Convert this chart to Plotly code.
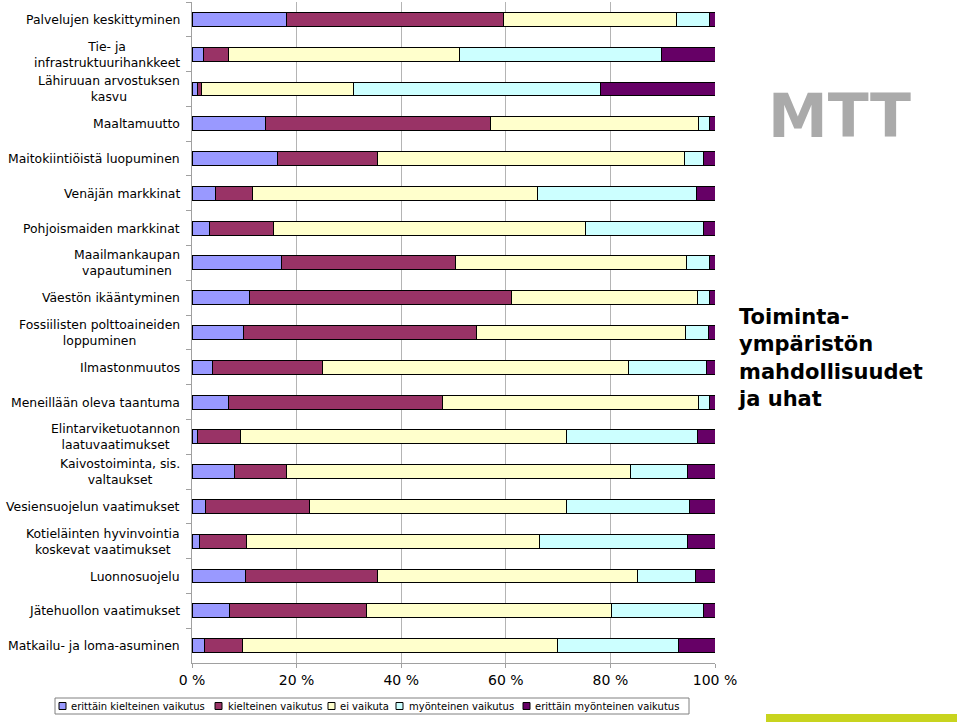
import plotly.graph_objects as go

categories = [
    "Palvelujen keskittyminen",
    "Tie- ja infrastruktuurihankkeet",
    "Lähiruuan arvostuksen kasvu",
    "Maaltamuutto",
    "Maitokiintiöistä luopuminen",
    "Venäjän markkinat",
    "Pohjoismaiden markkinat",
    "Maailmankaupan vapautuminen",
    "Väestön ikääntyminen",
    "Fossiilisten polttoaineiden loppuminen",
    "Ilmastonmuutos",
    "Meneillään oleva taantuma",
    "Elintarviketuotannon laatuvaatimukset",
    "Kaivostoiminta, sis. valtaukset",
    "Vesiensuojelun vaatimukset",
    "Kotieläinten hyvinvointia koskevat vaatimukset",
    "Luonnosuojelu",
    "Jätehuollon vaatimukset",
    "Matkailu- ja loma-asuminen",
]
category_labels = [
    "Palvelujen keskittyminen",
    "Tie- ja<br>infrastruktuurihankkeet",
    "Lähiruuan arvostuksen<br>kasvu",
    "Maaltamuutto",
    "Maitokiintiöistä luopuminen",
    "Venäjän markkinat",
    "Pohjoismaiden markkinat",
    "Maailmankaupan<br>vapautuminen",
    "Väestön ikääntyminen",
    "Fossiilisten polttoaineiden<br>loppuminen",
    "Ilmastonmuutos",
    "Meneillään oleva taantuma",
    "Elintarviketuotannon<br>laatuvaatimukset",
    "Kaivostoiminta, sis.<br>valtaukset",
    "Vesiensuojelun vaatimukset",
    "Kotieläinten hyvinvointia<br>koskevat vaatimukset",
    "Luonnosuojelu",
    "Jätehuollon vaatimukset",
    "Matkailu- ja loma-asuminen",
]

series_names = [
    "erittäin kielteinen vaikutus",
    "kielteinen vaikutus",
    "ei vaikuta",
    "myönteinen vaikutus",
    "erittäin myönteinen vaikutus",
]
erittain_kielteinen = [18.1, 2.2, 1.0, 14.1, 16.4, 4.4, 3.3, 17.2, 10.9, 9.9, 4.0, 7.0, 1.1, 8.1, 2.6, 1.4, 10.2, 7.2, 2.3]
kielteinen = [41.5, 4.7, 0.8, 43.0, 19.0, 7.2, 12.2, 33.1, 50.2, 44.5, 21.0, 40.9, 8.1, 9.9, 19.8, 9.0, 25.3, 26.1, 7.4]
ei_vaikuta = [33.1, 44.3, 29.0, 39.7, 58.7, 54.4, 59.8, 44.3, 35.5, 40.0, 58.4, 48.9, 62.4, 65.9, 49.2, 56.0, 49.6, 46.9, 60.1]
myonteinen = [6.2, 38.5, 47.4, 2.1, 3.7, 30.5, 22.5, 4.4, 2.4, 4.3, 15.0, 2.1, 25.0, 10.9, 23.6, 28.4, 11.2, 17.6, 23.3]
erittain_myonteinen = [1.1, 10.3, 21.8, 1.1, 2.2, 3.5, 2.2, 1.0, 1.0, 1.3, 1.6, 1.1, 3.4, 5.2, 4.8, 5.2, 3.7, 2.2, 6.9]
series_values = [erittain_kielteinen, kielteinen, ei_vaikuta, myonteinen, erittain_myonteinen]
series_colors = ["#9999FF", "#993366", "#FFFFCC", "#CCFFFF", "#660066"]

tick_vals = [0, 20, 40, 60, 80, 100]
tick_text = ["0 %", "20 %", "40 %", "60 %", "80 %", "100 %"]

FONT = "DejaVu Sans"
W, H = 960, 723
ML, MR, MT, MB = 192, 245, 2, 60
PW, PH = W - ML - MR, H - MT - MB


def px_x(px):
    return (px - ML) / PW


def px_y(py):
    return (H - MB - py) / PH


fig = go.Figure()
for name, vals, col in zip(series_names, series_values, series_colors):
    fig.add_trace(go.Bar(
        y=categories, x=vals, name=name, orientation="h",
        marker=dict(color=col, line=dict(color="#000000", width=1)),
        showlegend=False,
    ))

annotations = []
for cat, lab in zip(categories, category_labels):
    annotations.append(dict(
        x=0, y=cat, xref="paper", yref="y", text=lab, showarrow=False,
        xanchor="right", yanchor="middle", align="center", xshift=-10,
        font=dict(family=FONT, size=12.4, color="#000000"),
    ))

annotations.append(dict(
    x=px_x(839), y=px_y(116), xref="paper", yref="paper", text="<b>MTT</b>",
    showarrow=False, xanchor="center", yanchor="middle",
    font=dict(family=FONT, size=60, color="#AAAAAA"),
))
annotations.append(dict(
    x=px_x(736), y=px_y(358), xref="paper", yref="paper",
    text="<b>Toiminta-<br>ympäristön<br>mahdollisuudet<br>ja uhat</b>",
    showarrow=False, xanchor="left", yanchor="middle", align="left",
    font=dict(family=FONT, size=21, color="#000000"),
))

shapes = []
# legend box
shapes.append(dict(type="rect", xref="paper", yref="paper",
                   x0=px_x(55), x1=px_x(689), y0=px_y(698), y1=px_y(714),
                   line=dict(color="#808080", width=1), fillcolor="#FFFFFF", layer="above"))
legend_sq_x = [59, 215, 328, 396, 523]
legend_tx_x = [69, 226, 338, 407, 533]
for name, col, sx, tx in zip(series_names, series_colors, legend_sq_x, legend_tx_x):
    shapes.append(dict(type="rect", xref="paper", yref="paper",
                       x0=px_x(sx), x1=px_x(sx + 7), y0=px_y(702.5), y1=px_y(709.5),
                       line=dict(color="#000000", width=1), fillcolor=col, layer="above"))
    annotations.append(dict(
        x=px_x(tx), y=px_y(706), xref="paper", yref="paper", text=name,
        showarrow=False, xanchor="left", yanchor="middle",
        font=dict(family=FONT, size=10, color="#000000"),
    ))
# green footer bar
shapes.append(dict(type="rect", xref="paper", yref="paper",
                   x0=px_x(766), x1=px_x(957), y0=px_y(714), y1=px_y(722),
                   line=dict(width=0), fillcolor="#C8D41E"))

fig.update_layout(
    width=W, height=H,
    margin=dict(l=ML, r=MR, t=MT, b=MB, pad=0),
    barmode="stack", bargap=0.6,
    plot_bgcolor="#FFFFFF", paper_bgcolor="#FFFFFF",
    font=dict(family=FONT, color="#000000"),
    annotations=annotations, shapes=shapes,
    showlegend=False,
)
fig.update_xaxes(
    range=[0, 100], tickvals=tick_vals, ticktext=tick_text,
    showgrid=True, gridcolor="#B4B4B4", gridwidth=1,
    showline=True, linecolor="#A0A0A0", linewidth=1,
    ticks="outside", ticklen=4, tickcolor="#A0A0A0",
    tickfont=dict(family=FONT, size=14, color="#000000"),
    zeroline=False, fixedrange=True,
)
fig.update_yaxes(
    type="category", categoryorder="array", categoryarray=categories,
    autorange="reversed", showticklabels=False,
    showline=True, linecolor="#A0A0A0", linewidth=1,
    ticks="outside", ticklen=5, tickcolor="#A0A0A0", tickson="boundaries",
    showgrid=False, zeroline=False, fixedrange=True,
)

fig.write_html("out.html")
